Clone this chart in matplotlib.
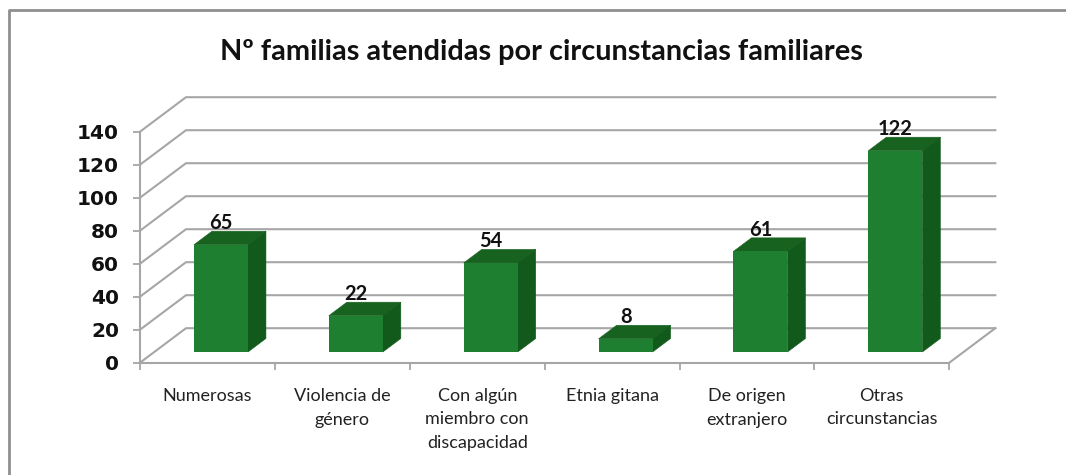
#!/usr/bin/env python3
"""Nº familias atendidas - fake 3D column chart, Excel style."""

import matplotlib
matplotlib.use('Agg')
import matplotlib.pyplot as plt
from matplotlib.patches import Polygon

CATEGORIES = ['Numerosas', 'Violencia de\ngénero', 'Con algún\nmiembro con\ndiscapacidad',
              'Etnia gitana', 'De origen\nextranjero', 'Otras\ncircunstancias']
VALUES = [65, 22, 54, 8, 61, 122]
Y_TICKS = [0, 20, 40, 60, 80, 100, 120, 140]
TITLE = 'Nº familias atendidas por circunstancias familiares'

W, H = 1066, 475
GRID = '#a6a6a6'
FRAME = '#8f8f8f'
FRONT = '#1f7f30'
TOP = '#17621f'
SIDE = '#125a1b'

# plot box in pixels
LEFT, RIGHT, BOTTOM, TOP_PX = 140, 949.3, 362.7, 131.7
PX_PER_CAT = (RIGHT - LEFT) / len(VALUES)
PX_PER_VAL = (BOTTOM - TOP_PX) / Y_TICKS[-1]

# depth of the walls and bars, in data units
WALL_DX = 46 / PX_PER_CAT
WALL_DY = 34.5 / PX_PER_VAL
BAR_DX = 18 / PX_PER_CAT
BAR_DY = 13.5 / PX_PER_VAL
BAR_W = 54 / PX_PER_CAT
BAR_SHIFT = 13.5 / PX_PER_CAT
FLOOR = 10.7 / PX_PER_VAL

plt.rcParams['font.family'] = ['Lato', 'DejaVu Sans']

fig = plt.figure(figsize=(W / 100, H / 100), dpi=100, facecolor='white')
ax = fig.add_axes([LEFT / W, 1 - BOTTOM / H, (RIGHT - LEFT) / W, (BOTTOM - TOP_PX) / H])
ax.set_xlim(0, len(VALUES))
ax.set_ylim(0, Y_TICKS[-1])
ax.patch.set_visible(False)
for name in ['top', 'right']:
    ax.spines[name].set_visible(False)
for name in ['left', 'bottom']:
    ax.spines[name].set_color(GRID)
    ax.spines[name].set_linewidth(1.5)

# walls
n = len(VALUES)
for v in Y_TICKS:
    ax.plot([0, WALL_DX, n + WALL_DX], [v, v + WALL_DY, v + WALL_DY],
            color=GRID, lw=1.5, clip_on=False, zorder=1)
ax.plot([n, n + WALL_DX], [0, WALL_DY], color=GRID, lw=1.5, clip_on=False, zorder=1)

# bars
for i, v in enumerate(VALUES):
    x0 = i + 0.5 + BAR_SHIFT - BAR_W / 2
    x1 = x0 + BAR_W
    top = FLOOR + v
    ax.add_patch(Polygon([(x0, top), (x1, top), (x1 + BAR_DX, top + BAR_DY), (x0 + BAR_DX, top + BAR_DY)],
                         closed=True, facecolor=TOP, edgecolor=TOP, lw=0.4, zorder=3, clip_on=False))
    ax.add_patch(Polygon([(x1, FLOOR), (x1 + BAR_DX, FLOOR + BAR_DY), (x1 + BAR_DX, top + BAR_DY), (x1, top)],
                         closed=True, facecolor=SIDE, edgecolor=SIDE, lw=0.4, zorder=3, clip_on=False))
    ax.bar(x0, v, width=BAR_W, bottom=FLOOR, align='edge', color=FRONT, zorder=3, clip_on=False)
    ax.annotate(str(v), (x0 + BAR_W / 2, top), xytext=(0, 8.5), textcoords='offset points',
                ha='center', va='bottom', fontsize=14.5, fontweight='bold', color='#111111', zorder=4)

# axes ticks and labels
ax.set_yticks(Y_TICKS)
ax.set_xticks(range(n + 1))
ax.set_xticklabels([])
ax.set_xticks([i + 0.5 for i in range(n)], labels=CATEGORIES, minor=True)
ax.tick_params(axis='y', length=5, width=1.3, color=GRID, pad=10, labelsize=14.5, labelcolor='#111111')
ax.tick_params(axis='x', which='major', length=5, width=1.3, color=GRID)
ax.tick_params(axis='x', which='minor', length=0, pad=18, labelsize=13, labelcolor='#222222')
for lbl in ax.get_yticklabels():
    lbl.set_fontweight('bold')
    lbl.set_family('DejaVu Sans')
for lbl in ax.get_xticklabels(minor=True):
    lbl.set_linespacing(1.6)
    lbl.set_va('top')

fig.text(541 / W, 1 - 52 / H, TITLE, ha='center', va='center', fontsize=20.8, fontweight='bold', color='#111111')

# chart frame, only top and left survive in the crop
fig.add_artist(plt.Line2D([9 / W, 9 / W, 1], [0, 1 - 9.5 / H, 1 - 9.5 / H], color=FRAME, lw=2))

fig.savefig('out.png', dpi=100, facecolor='white')
